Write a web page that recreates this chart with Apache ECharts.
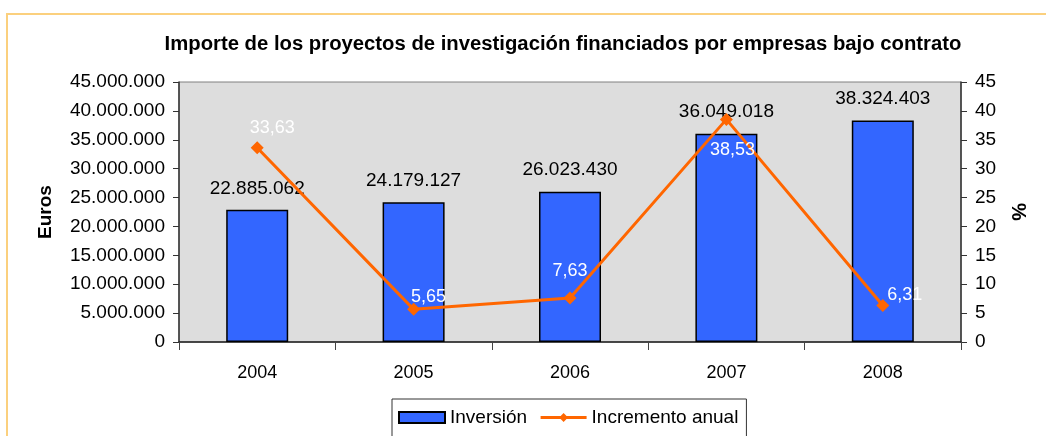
<!DOCTYPE html>
<html><head><meta charset="utf-8">
<script src="https://cdn.jsdelivr.net/npm/echarts@6/dist/echarts.min.js"></script>
<style>html,body{margin:0;padding:0;background:#fff}#c{width:1046px;height:436px}</style>
</head><body><div id="c"></div>
<script>
const categories = ['2004', '2005', '2006', '2007', '2008'];
const inversion = [22885062, 24179127, 26023430, 36049018, 38324403];
const incremento = [33.63, 5.65, 7.63, 38.53, 6.31];
const leftTicks = [0, 5000000, 10000000, 15000000, 20000000, 25000000, 30000000, 35000000, 40000000, 45000000];
const rightTicks = [0, 5, 10, 15, 20, 25, 30, 35, 40, 45];

const labelOffsets = [[15, -20], [15, -12], [0, -27], [6, 31], [22, -11]];
const FONT = 'Liberation Sans, Arial, sans-serif';
const fmtThousands = v => String(Math.round(v)).replace(/\B(?=(\d{3})+(?!\d))/g, '.');
const fmtComma = v => v.toFixed(2).replace('.', ',');

const chart = echarts.init(document.getElementById('c'), null, {renderer: 'canvas'});
chart.setOption({
  animation: false,
  textStyle: {fontFamily: FONT},
  graphic: [
    {type: 'rect', z: -10, shape: {x: 7, y: 14, width: 1100, height: 500},
     style: {fill: 'none', stroke: '#fbd07e', lineWidth: 2}},
    {type: 'text', x: 563, y: 44, z: 10,
     style: {text: 'Importe de los proyectos de investigación financiados por empresas bajo contrato',
             font: 'bold 20.3px ' + FONT, fill: '#000', align: 'center', verticalAlign: 'middle'}}
  ],
  grid: {left: 179, right: 85, top: 82, bottom: 94, show: true,
         backgroundColor: '#dddddd', borderColor: '#808080', borderWidth: 1},
  legend: {
    left: 392, top: 399, padding: [9, 8, 30, 6], itemGap: 12,
    borderColor: '#333', borderWidth: 1,
    itemWidth: 46, itemHeight: 11,
    textStyle: {fontSize: 19, color: '#000', fontFamily: FONT},
    data: [
      {name: 'Inversión', icon: 'rect'},
      {name: 'Incremento anual', lineStyle: {width: 3}}
    ]
  },
  xAxis: {
    type: 'category', data: categories, boundaryGap: true,
    axisLine: {lineStyle: {color: '#222', width: 1.5}},
    axisTick: {show: true, length: 8, lineStyle: {color: '#444'}},
    axisLabel: {fontSize: 18, color: '#000', margin: 22}
  },
  yAxis: [
    {type: 'value', min: 0, max: 45000000, interval: 5000000,
     name: 'Euros', nameLocation: 'middle', nameGap: 124, nameRotate: 90,
     nameTextStyle: {fontSize: 19, fontWeight: 'bold', color: '#000'},
     axisLine: {show: true, lineStyle: {color: '#333', width: 1.5}},
     axisTick: {show: true, length: 6, lineStyle: {color: '#333'}},
     splitLine: {show: false},
     axisLabel: {fontSize: 19, color: '#000', margin: 14,
       customValues: leftTicks, formatter: v => fmtThousands(v)}},
    {type: 'value', min: 0, max: 45, interval: 5, position: 'right',
     name: '%', nameLocation: 'middle', nameGap: 47, nameRotate: -90,
     nameTextStyle: {fontSize: 20, fontWeight: 'bold', color: '#000'},
     axisLine: {show: true, lineStyle: {color: '#333', width: 1.5}},
     axisTick: {show: true, length: 6, lineStyle: {color: '#333'}},
     splitLine: {show: false},
     axisLabel: {fontSize: 19, color: '#000', margin: 14,
       customValues: rightTicks, formatter: v => String(v)}}
  ],
  series: [
    {name: 'Inversión', type: 'bar', yAxisIndex: 0, barWidth: 62,
     data: inversion,
     itemStyle: {color: '#3366ff', borderColor: '#000', borderWidth: 1.5},
     label: {show: true, position: 'top', distance: 12, fontSize: 19, color: '#000',
             formatter: p => fmtThousands(p.value)}},
    {name: 'Incremento anual', type: 'line', yAxisIndex: 1, z: 5,
     data: incremento.map((v, i) => ({value: v,
       label: {offset: labelOffsets[i]}})),
     lineStyle: {color: '#ff6600', width: 3},
     itemStyle: {color: '#ff6600'},
     symbol: 'diamond', symbolSize: 13,
     label: {show: true, position: 'inside', fontSize: 18, color: '#fff',
             formatter: p => fmtComma(p.value)}}
  ]
});
</script></body></html>
